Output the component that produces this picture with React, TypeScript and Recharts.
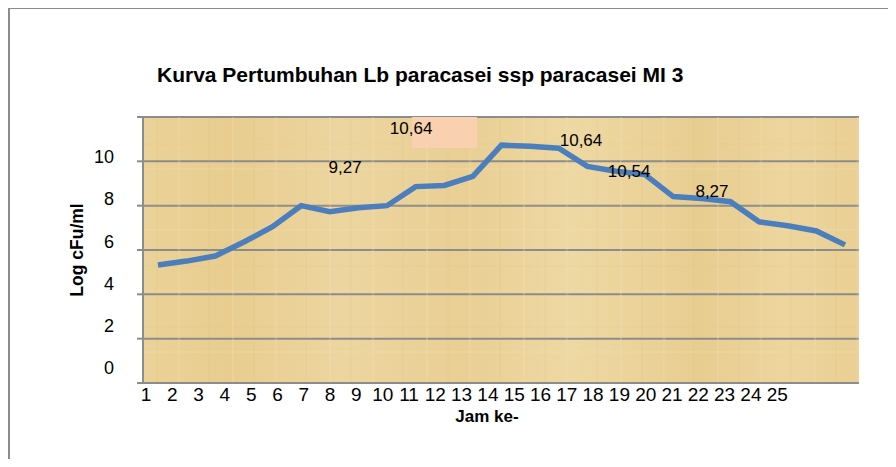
import React from 'react';
import {
  LineChart,
  Line,
  XAxis,
  YAxis,
  CartesianGrid,
  ReferenceArea,
  ReferenceDot
} from 'recharts';

// jam ke- (hour) and growth, log cFu/ml
const jamKe = [1, 2, 3, 4, 5, 6, 7, 8, 9, 10, 11, 12, 13, 14, 15, 16, 17, 18, 19, 20, 21, 22, 23, 24, 25];
const logCfu = [5.32, 5.5, 5.73, 6.36, 7.05, 8.0, 7.73, 7.91, 8.0, 8.86, 8.91, 9.32, 10.73, 10.68, 10.59, 9.77, 9.55, 9.41, 8.41, 8.32, 8.18, 7.27, 7.09, 6.86, 6.23];

const yTicks = [0, 2, 4, 6, 8, 10, 12];
const xTickLabels = [1, 2, 3, 4, 5, 6, 7, 8, 9, 10, 11, 12, 13, 14, 15, 16, 17, 18, 19, 20, 21, 22, 23, 24, 25];

// loose text notes placed on the plot (in axis units)
const noteTexts = ['9,27', '10,64', '10,64', '10,54', '8,27'];
const noteJam = [8.57, 11.08, 17.54, 19.37, 22.52];
const noteLog = [9.7, 11.46, 10.96, 9.52, 8.62];

const data = jamKe.map((j, i) => ({ jam: j, log: logCfu[i] }));
const notes = noteTexts.map((t, i) => ({ text: t, x: noteJam[i], y: noteLog[i] }));

const SANS = "'Liberation Sans', Arial, sans-serif";
const NARROW = "'Liberation Sans Narrow', 'Arial Narrow', 'Liberation Sans', Arial, sans-serif";
const GRID = '#8c8c8c';

const YTick = ({ x, y, payload }: any) => {
  if (payload.value === 12) return <g />;
  const drift = -4 - (10 - payload.value) * 1.1;
  return (
    <text x={x} y={y + drift} textAnchor="end" dominantBaseline="central" fontSize={18} fontFamily={SANS} fill="#000">
      {payload.value}
    </text>
  );
};

const XTick = ({ x, y, payload }: any) => (
  <text x={x} y={y + 11} textAnchor="middle" dominantBaseline="central" fontSize={19} fontFamily={NARROW} fill="#000">
    {payload.value}
  </text>
);

const NoteText = (text: string) => (p: any) => (
  <text x={p.cx} y={p.cy} textAnchor="middle" dominantBaseline="central" fontSize={17} fontFamily={SANS} fill="#000">
    {text}
  </text>
);

const App = () => {
  return (
    <div style={{ position: 'relative', width: 880, height: 451, fontFamily: SANS }}>
      <div
        style={{
          position: 'absolute',
          left: 0,
          top: -1,
          width: 886,
          height: 458,
          borderTop: `2px solid ${GRID}`,
          borderLeft: `2px solid ${GRID}`
        }}
      />
      <div
        style={{
          position: 'absolute',
          left: 149,
          top: 55,
          fontSize: 21,
          fontWeight: 'bold',
          whiteSpace: 'pre',
          lineHeight: '24px'
        }}
      >
        Kurva Pertumbuhan Lb paracasei ssp paracasei MI 3
      </div>
      <div
        style={{
          position: 'absolute',
          left: 69,
          top: 242,
          transform: 'translate(-50%, -50%) rotate(-90deg)',
          fontSize: 17.5,
          fontWeight: 'bold',
          whiteSpace: 'nowrap'
        }}
      >
        Log cFu/ml
      </div>
      <div
        style={{
          position: 'absolute',
          left: 479,
          top: 408,
          transform: 'translate(-50%, -50%)',
          fontSize: 17,
          fontWeight: 'bold',
          whiteSpace: 'nowrap',
          lineHeight: '17px'
        }}
      >
        Jam ke-
      </div>
      <div style={{ position: 'absolute', left: 0, top: 0 }}>
        <LineChart width={880} height={451} data={data} margin={{ top: 109, right: 29, bottom: 46, left: 0 }}>
          <defs>
            <linearGradient id="papyrus" x1="0" y1="0" x2="1" y2="0">
              <stop offset="0%" stopColor="#ebd298" />
              <stop offset="12%" stopColor="#e8cd8f" />
              <stop offset="28%" stopColor="#edd5a0" />
              <stop offset="45%" stopColor="#e9cf94" />
              <stop offset="60%" stopColor="#eed8a3" />
              <stop offset="78%" stopColor="#e8cd90" />
              <stop offset="90%" stopColor="#edd59e" />
              <stop offset="100%" stopColor="#e9cf93" />
            </linearGradient>
            <pattern id="fibers" width="97" height="61" patternUnits="userSpaceOnUse">
              <line x1="7" y1="0" x2="7" y2="61" stroke="#c9a862" strokeWidth="1" opacity="0.18" />
              <line x1="31" y1="0" x2="31" y2="61" stroke="#f3e0b2" strokeWidth="2" opacity="0.25" />
              <line x1="52" y1="0" x2="52" y2="61" stroke="#c4a35a" strokeWidth="1" opacity="0.14" />
              <line x1="74" y1="0" x2="74" y2="61" stroke="#f1ddae" strokeWidth="3" opacity="0.2" />
              <line x1="0" y1="14" x2="97" y2="14" stroke="#d2b274" strokeWidth="1" opacity="0.14" />
              <line x1="0" y1="39" x2="97" y2="39" stroke="#f2e0b2" strokeWidth="2" opacity="0.22" />
            </pattern>
          </defs>
          <CartesianGrid
            horizontal
            vertical={false}
            stroke={GRID}
            strokeWidth={2}
            fill="url(#papyrus)"
            fillOpacity={1}
          />
          <XAxis dataKey="jam" type="category" hide height={0} padding={{ left: 15, right: 14 }} />
          <XAxis
            xAxisId="lbl"
            dataKey="jam"
            type="number"
            domain={[0.886, 28.11]}
            allowDataOverflow
            ticks={xTickLabels}
            interval={0}
            height={30}
            tickSize={0}
            tickMargin={0}
            tickLine={false}
            axisLine={{ stroke: GRID, strokeWidth: 2 }}
            tick={<XTick />}
          />
          <YAxis
            type="number"
            domain={[0, 12]}
            ticks={yTicks}
            interval={0}
            width={135}
            tickSize={6}
            tickMargin={23}
            axisLine={{ stroke: GRID, strokeWidth: 2 }}
            tickLine={{ stroke: GRID, strokeWidth: 2 }}
            tick={<YTick />}
          />
          <ReferenceArea
            xAxisId="lbl"
            x1={0.886}
            x2={28.11}
            y1={0}
            y2={12}
            fill="url(#fibers)"
            fillOpacity={1}
            stroke="none"
          />
          <ReferenceArea
            xAxisId="lbl"
            x1={11.11}
            x2={13.59}
            y1={10.6}
            y2={12}
            fill="#f9d0b0"
            fillOpacity={1}
            stroke="none"
          />
          <Line
            type="linear"
            dataKey="log"
            stroke="#4a7ebc"
            strokeWidth={5.5}
            dot={false}
            activeDot={false}
            isAnimationActive={false}
          />
          {notes.map((n, i) => (
            <ReferenceDot
              key={i}
              xAxisId="lbl"
              x={n.x}
              y={n.y}
              r={0}
              shape={NoteText(n.text)}
            />
          ))}
        </LineChart>
      </div>
    </div>
  );
};

export default App;
